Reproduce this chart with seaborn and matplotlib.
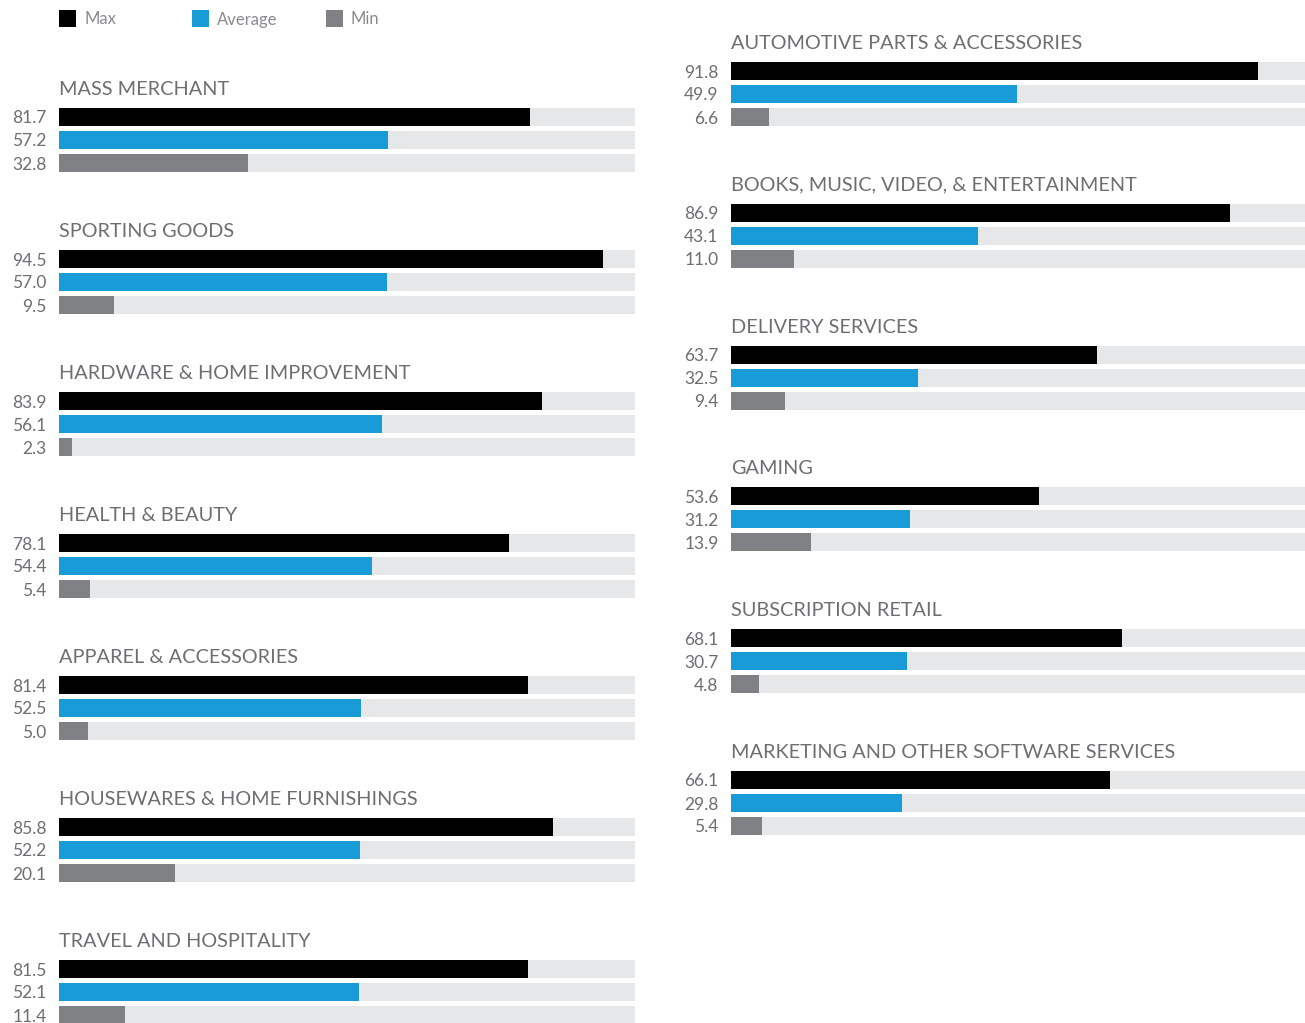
import matplotlib
matplotlib.use("Agg")
import matplotlib.pyplot as plt
import seaborn as sns
import pandas as pd

sns.set_theme(style="white")
plt.rcParams['font.family'] = ['Lato', 'DejaVu Sans']

series = ["Max", "Average", "Min"]
colors = {"Max": "#000000", "Average": "#189bd7", "Min": "#808184"}
track_color = "#e6e7e8"
text_color = "#6d6e71"

left_categories = ["MASS MERCHANT", "SPORTING GOODS", "HARDWARE & HOME IMPROVEMENT",
                   "HEALTH & BEAUTY", "APPAREL & ACCESSORIES",
                   "HOUSEWARES & HOME FURNISHINGS", "TRAVEL AND HOSPITALITY"]
left_max = [81.7, 94.5, 83.9, 78.1, 81.4, 85.8, 81.5]
left_avg = [57.2, 57.0, 56.1, 54.4, 52.5, 52.2, 52.1]
left_min = [32.8, 9.5, 2.3, 5.4, 5.0, 20.1, 11.4]

right_categories = ["AUTOMOTIVE PARTS & ACCESSORIES", "BOOKS, MUSIC, VIDEO, & ENTERTAINMENT",
                    "DELIVERY SERVICES", "GAMING", "SUBSCRIPTION RETAIL",
                    "MARKETING AND OTHER SOFTWARE SERVICES"]
right_max = [91.8, 86.9, 63.7, 53.6, 68.1, 66.1]
right_avg = [49.9, 43.1, 32.5, 31.2, 30.7, 29.8]
right_min = [6.6, 11.0, 9.4, 13.9, 4.8, 5.4]

W, H = 1305, 1023
fig = plt.figure(figsize=(W / 100, H / 100), dpi=100)


def px_axes(x0, y_top, w, h):
    return fig.add_axes([x0 / W, 1 - (y_top + h) / H, w / W, h / H])


def draw_group(x0, width, first_center, title, vals):
    pitch = 23
    ax = px_axes(x0, first_center - pitch / 2, width, pitch * 3)
    df = pd.DataFrame({"series": series, "value": vals, "track": [100] * 3})
    sns.barplot(data=df, x="track", y="series", color=track_color, width=0.78,
                orient="h", ax=ax, order=series, saturation=1, linewidth=0)
    sns.barplot(data=df, x="value", y="series", hue="series", palette=colors,
                width=0.78, orient="h", ax=ax, order=series, legend=False,
                dodge=False, saturation=1, linewidth=0)
    ax.set_xlim(0, 100)
    ax.set_ylim(2.5, -0.5)
    ax.set_xticks([])
    ax.set_yticks([0, 1, 2], labels=[f"{v:.1f}" for v in vals])
    ax.tick_params(axis="y", length=0, pad=9, labelsize=12.5, labelcolor=text_color)
    ax.set_xlabel("")
    ax.set_ylabel("")
    for s in ax.spines.values():
        s.set_visible(False)
    ax.patch.set_alpha(0)
    fig.text(x0 / W, 1 - (first_center - 27.5) / H, title, fontsize=14.3,
             color=text_color, va="center", ha="left")


for i, cat in enumerate(left_categories):
    draw_group(59, 576, 117 + 142 * i, cat, [left_max[i], left_avg[i], left_min[i]])

for i, cat in enumerate(right_categories):
    draw_group(731, 574, 71 + 141.8 * i, cat, [right_max[i], right_avg[i], right_min[i]])

# legend
leg_x = [59, 192, 326]
for x, s in zip(leg_x, series):
    lax = px_axes(x, 10, 17, 17)
    lax.add_patch(plt.Rectangle((0, 0), 1, 1, color=colors[s], lw=0))
    lax.set_xlim(0, 1)
    lax.set_ylim(0, 1)
    lax.axis("off")
    fig.text((x + 25) / W, 1 - 19.5 / H, s, fontsize=12, color="#8a8b8d",
             va="center", ha="left")

fig.savefig("out.png", dpi=100)
